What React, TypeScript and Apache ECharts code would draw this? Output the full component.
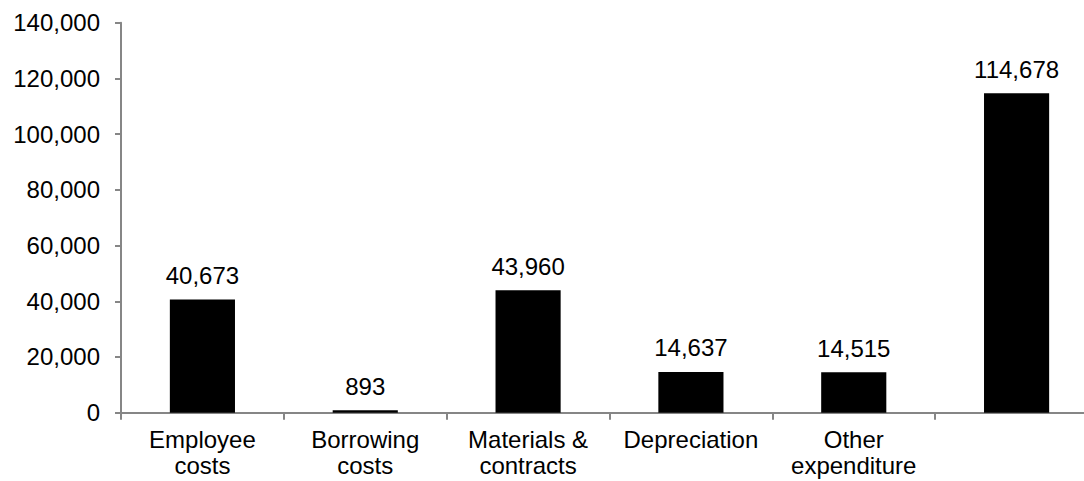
import React, { useEffect, useRef } from "react";
import * as echarts from "echarts";

const categories = [
  "Employee\ncosts",
  "Borrowing\ncosts",
  "Materials &\ncontracts",
  "Depreciation",
  "Other\nexpenditure",
  "",
];
const values = [40673, 893, 43960, 14637, 14515, 114678];
const yTicks = [0, 20000, 40000, 60000, 80000, 100000, 120000, 140000];

const FONT = "'Liberation Sans', Arial, sans-serif";
const AXIS_COLOR = "#868686";

const fmt = (v: number) => v.toLocaleString("en-US");

export default function App() {
  const ref = useRef<HTMLDivElement>(null);
  useEffect(() => {
    if (!ref.current) return;
    const chart = echarts.init(ref.current, null, { renderer: "svg" });
    chart.setOption({
      animation: false,
      backgroundColor: "#ffffff",
      grid: {
        left: 121,
        top: 22.7,
        width: 977,
        height: 390,
        containLabel: false,
        outerBoundsMode: "none",
      },
      xAxis: {
        type: "category",
        data: categories,
        axisLine: { show: true, lineStyle: { color: AXIS_COLOR, width: 2 } },
        axisTick: { show: true, length: 7, alignWithLabel: false, lineStyle: { color: AXIS_COLOR, width: 2 } },
        axisLabel: {
          interval: 0,
          margin: 14,
          color: "#000",
          fontFamily: FONT,
          fontSize: 24,
          lineHeight: 26,
        },
      },
      yAxis: {
        type: "value",
        min: yTicks[0],
        max: yTicks[yTicks.length - 1],
        interval: yTicks[1] - yTicks[0],
        splitLine: { show: false },
        axisLine: { show: true, lineStyle: { color: AXIS_COLOR, width: 2 } },
        axisTick: { show: true, length: 6, inside: false, lineStyle: { color: AXIS_COLOR, width: 2 } },
        axisLabel: {
          margin: 21,
          color: "#000",
          fontFamily: FONT,
          fontSize: 24,
          formatter: (v: number) => fmt(v),
        },
      },
      series: [
        {
          type: "bar",
          data: values,
          barWidth: "40%",
          itemStyle: { color: "#000" },
          label: {
            show: true,
            position: "top",
            distance: 12,
            color: "#000",
            fontFamily: FONT,
            fontSize: 24,
            formatter: (p: any) => fmt(p.value),
          },
        },
      ],
    });
    return () => chart.dispose();
  }, []);
  return (
    <div
      ref={ref}
      style={{ position: "fixed", left: 0, top: 0, width: 1084, height: 481 }}
    />
  );
}
